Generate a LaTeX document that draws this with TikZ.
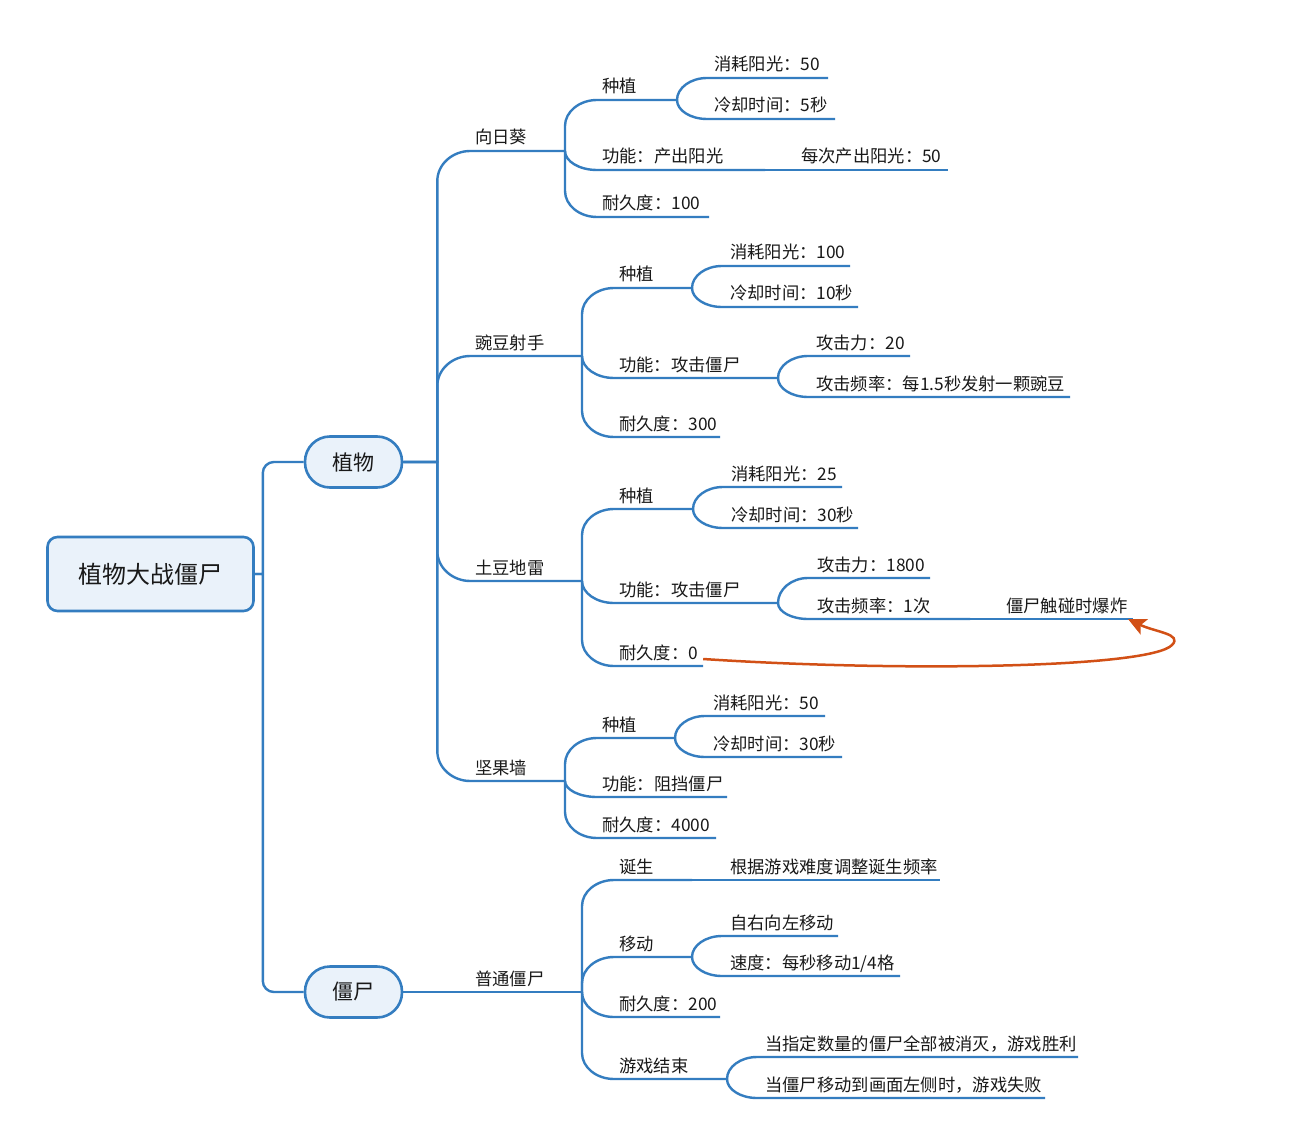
\documentclass[tikz,border=0pt]{standalone}
\usepackage{fontspec}
\newfontfamily\cjk{Noto Sans CJK SC}
\usetikzlibrary{arrows.meta}
\definecolor{lineblue}{RGB}{52,125,192}
\definecolor{boxfill}{RGB}{234,242,250}
\definecolor{arrorange}{RGB}{210,80,22}
\definecolor{txt}{RGB}{25,25,25}
\newdimen\mmx \newdimen\mmy
\newcommand{\mmget}[3]{\pgfextractx{\mmx}{\pgfpointanchor{#1}{center}}\pgfextracty{\mmy}{\pgfpointanchor{#1}{center}}\pgfmathsetmacro#2{\mmx}\pgfmathsetmacro#3{\mmy}}
% #1 from, #2 to, #3 trunk offset, #4 horizontal corner size, #5 vertical corner size
\newcommand{\blink}[5]{%
 \mmget{#1}\mmax\mmay\mmget{#2}\mmbx\mmby
 \pgfmathsetmacro\mmdy{\mmby-\mmay}%
 \pgfmathsetmacro\mmad{abs(\mmdy)}%
 \pgfmathsetmacro\mmt{\mmax+#3}%
 \ifdim\mmad pt<0.5pt
   \draw[br] (#1) -- (#2);
 \else
   \pgfmathsetmacro\mmrv{min(#5,\mmad)}%
   \pgfmathsetmacro\mmsg{\mmdy/\mmad}%
   \pgfmathsetmacro\mmyy{\mmby-(\mmsg)*\mmrv}%
   \pgfmathsetmacro\mmyc{\mmby-(\mmsg)*\mmrv*0.45}%
   \pgfmathsetmacro\mmxx{\mmt+#4}%
   \pgfmathsetmacro\mmxc{\mmt+#4*0.45}%
   \draw[br] (#1) -- (\mmt pt,\mmay pt) -- (\mmt pt,\mmyy pt) .. controls (\mmt pt,\mmyc pt) and (\mmxc pt,\mmby pt) .. (\mmxx pt,\mmby pt) -- (#2);
 \fi}
\newcommand{\topic}[5]{\node[tp] (#1) at (#2,{#3-7}) {#5};\coordinate (#1-e) at (#4,#3);}
\begin{document}
\begin{tikzpicture}[x=1pt,y=-1pt,
  br/.style={draw=lineblue,line width=2.4pt,line join=round},
  tp/.style={anchor=base west,inner sep=0pt,text=txt,font=\cjk\fontsize{17.3}{20}\selectfont},
  rootbox/.style={draw=lineblue,line width=2.6pt,fill=boxfill,rounded corners=10pt,minimum width=206pt,minimum height=74pt,inner sep=0pt,text=txt,font=\cjk\fontsize{24}{28}\selectfont},
  pill/.style={draw=lineblue,line width=2.6pt,fill=boxfill,rounded corners=25pt,minimum width=97pt,minimum height=51pt,inner sep=0pt,text=txt,font=\cjk\fontsize{21}{24}\selectfont},
  arr/.style={draw=arrorange,line width=2.5pt,-{Stealth[length=18pt,width=17pt,inset=4pt]}}]
\fill[white] (0,0) rectangle (1297,1147);
\useasboundingbox (0,0) rectangle (1297,1147);
% main nodes
\node[rootbox] (root) at (150.5,574) {植物大战僵尸};
\node[pill] (zw) at (353.5,462) {植物};
\node[pill] (js) at (353.5,992) {僵尸};
\coordinate (root-e) at (root.east);
\coordinate (zw-w) at (zw.west);
\coordinate (zw-e) at (zw.east);
\coordinate (js-w) at (js.west);
\coordinate (js-e) at (js.east);
% plants
\topic{xrk}{475}{151}{565}{向日葵}
\topic{wd}{475}{356}{582}{豌豆射手}
\topic{td}{475}{581}{582}{土豆地雷}
\topic{jg}{475}{781}{565}{坚果墙}
% sunflower
\topic{xrk1}{602}{100}{677}{种植}
\topic{xrk2}{602}{170}{765}{功能：产出阳光}
\topic{xrk3}{602}{217}{709}{耐久度：100}
\topic{xrk11}{714}{78}{828}{消耗阳光：50}
\topic{xrk12}{714}{119}{835}{冷却时间：5秒}
\topic{xrk21}{801}{170}{948}{每次产出阳光：50}
% peashooter
\topic{wd1}{619}{288}{692}{种植}
\topic{wd2}{619}{378}{778}{功能：攻击僵尸}
\topic{wd3}{619}{437}{720}{耐久度：300}
\topic{wd11}{730}{266}{850}{消耗阳光：100}
\topic{wd12}{730}{307}{858}{冷却时间：10秒}
\topic{wd21}{816}{356}{910}{攻击力：20}
\topic{wd22}{816}{397}{1070}{攻击频率：每1.5秒发射一颗豌豆}
% potato mine
\topic{td1}{619}{509}{693}{种植}
\topic{td2}{619}{603}{778}{功能：攻击僵尸}
\topic{td3}{619}{666}{703}{耐久度：0}
\topic{td11}{731}{487}{842}{消耗阳光：25}
\topic{td12}{731}{528}{858}{冷却时间：30秒}
\topic{td21}{817}{578}{930}{攻击力：1800}
\topic{td22}{817}{619}{970}{攻击频率：1次}
\topic{td221}{1006}{619}{1133}{僵尸触碰时爆炸}
% wall-nut
\topic{jg1}{602}{738}{675}{种植}
\topic{jg2}{602}{797}{727}{功能：阻挡僵尸}
\topic{jg3}{602}{838}{716}{耐久度：4000}
\topic{jg11}{713}{716}{825}{消耗阳光：50}
\topic{jg12}{713}{757}{842}{冷却时间：30秒}
% zombies
\topic{pt}{475}{992}{582}{普通僵尸}
\topic{pt1}{619}{880}{692}{诞生}
\topic{pt2}{619}{957}{692}{移动}
\topic{pt3}{619}{1017}{720}{耐久度：200}
\topic{pt4}{619}{1079}{727}{游戏结束}
\topic{pt11}{730}{880}{940}{根据游戏难度调整诞生频率}
\topic{pt21}{730}{936}{838}{自右向左移动}
\topic{pt22}{730}{976}{900}{速度：每秒移动1/4格}
\topic{pt41}{765}{1057}{1078}{当指定数量的僵尸全部被消灭，游戏胜利}
\topic{pt42}{765}{1098}{1045}{当僵尸移动到画面左侧时，游戏失败}
% connectors
\blink{root-e}{zw-w}{8}{11}{11}
\blink{root-e}{js-w}{8}{11}{11}
\blink{zw-e}{xrk-e}{34}{33}{30}
\blink{zw-e}{wd-e}{34}{33}{30}
\blink{zw-e}{td-e}{34}{33}{30}
\blink{zw-e}{jg-e}{34}{33}{30}
\blink{xrk-e}{xrk1-e}{0}{32}{26}
\blink{xrk-e}{xrk2-e}{0}{32}{26}
\blink{xrk-e}{xrk3-e}{0}{32}{26}
\blink{xrk1-e}{xrk11-e}{0}{30}{26}
\blink{xrk1-e}{xrk12-e}{0}{30}{26}
\blink{xrk2-e}{xrk21-e}{0}{30}{26}
\blink{wd-e}{wd1-e}{0}{32}{26}
\blink{wd-e}{wd2-e}{0}{32}{26}
\blink{wd-e}{wd3-e}{0}{32}{26}
\blink{wd1-e}{wd11-e}{0}{30}{26}
\blink{wd1-e}{wd12-e}{0}{30}{26}
\blink{wd2-e}{wd21-e}{0}{30}{26}
\blink{wd2-e}{wd22-e}{0}{30}{26}
\blink{td-e}{td1-e}{0}{32}{26}
\blink{td-e}{td2-e}{0}{32}{26}
\blink{td-e}{td3-e}{0}{32}{26}
\blink{td1-e}{td11-e}{0}{30}{26}
\blink{td1-e}{td12-e}{0}{30}{26}
\blink{td2-e}{td21-e}{0}{30}{26}
\blink{td2-e}{td22-e}{0}{30}{26}
\blink{td22-e}{td221-e}{0}{30}{26}
\blink{jg-e}{jg1-e}{0}{32}{26}
\blink{jg-e}{jg2-e}{0}{32}{26}
\blink{jg-e}{jg3-e}{0}{32}{26}
\blink{jg1-e}{jg11-e}{0}{30}{26}
\blink{jg1-e}{jg12-e}{0}{30}{26}
\blink{js-e}{pt-e}{0}{32}{26}
\blink{pt-e}{pt1-e}{0}{32}{26}
\blink{pt-e}{pt2-e}{0}{32}{26}
\blink{pt-e}{pt3-e}{0}{32}{26}
\blink{pt-e}{pt4-e}{0}{32}{26}
\blink{pt1-e}{pt11-e}{0}{30}{26}
\blink{pt2-e}{pt21-e}{0}{30}{26}
\blink{pt2-e}{pt22-e}{0}{30}{26}
\blink{pt4-e}{pt41-e}{0}{30}{26}
\blink{pt4-e}{pt42-e}{0}{30}{26}
% relation arrow
\draw[arr] ([xshift=5pt]td3.base east) .. controls (900,672) and (1150,668) .. (1172,645) .. controls (1183,634) and (1155,632) .. ([xshift=-5pt]td221-e);
\end{tikzpicture}
\end{document}
